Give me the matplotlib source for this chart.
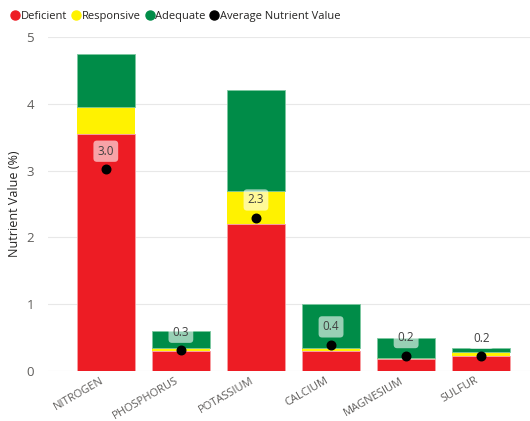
import matplotlib.pyplot as plt
import matplotlib.transforms as mtransforms
import numpy as np

nutrients = ["NITROGEN", "PHOSPHORUS", "POTASSIUM", "CALCIUM", "MAGNESIUM", "SULFUR"]
deficient = [3.55, 0.30, 2.20, 0.30, 0.175, 0.22]
responsive_top = [3.95, 0.35, 2.70, 0.35, 0.19, 0.28]
adequate_top = [4.75, 0.60, 4.20, 1.00, 0.50, 0.35]
average = [3.02, 0.31, 2.29, 0.39, 0.23, 0.22]
avg_labels = ["3.0", "0.3", "2.3", "0.4", "0.2", "0.2"]

red = "#ED1C24"
yellow = "#FFF200"
green = "#008C48"
txt = "#605E5C"

plt.rcParams['font.family'] = ['Open Sans', 'DejaVu Sans']

fig = plt.figure(figsize=(5.3, 4.21), dpi=100)
ax = fig.add_axes([48/530, 50/421, 482/530, 334/421])

x = np.arange(len(nutrients))
d = np.array(deficient)
r = np.array(responsive_top) - d
a = np.array(adequate_top) - np.array(responsive_top)
w = 0.78
ax.bar(x, d, w, color=red, edgecolor="#F7A0A4", linewidth=0.6, zorder=2)
ax.bar(x, r, w, bottom=d, color=yellow, linewidth=0, zorder=2)
ax.bar(x, a, w, bottom=responsive_top, color=green, edgecolor="#7CC8A0", linewidth=0.6, zorder=2)
ax.scatter(x, average, s=38, color="black", zorder=4)

for xi, v, lab in zip(x, average, avg_labels):
    ax.annotate(lab, (xi, v), xytext=(0, 13), textcoords="offset points",
                ha="center", va="center", fontsize=8.5, color="#404040", zorder=5,
                bbox=dict(boxstyle="round,pad=0.35,rounding_size=0.3", fc="white",
                          ec="none", alpha=0.6))

ax.set_ylim(0, 5)
ax.set_xlim(-0.77, 5.65)
ax.set_yticks(range(6))
ax.set_xticks(x)
ax.set_xticklabels(nutrients, rotation=30, ha="right", rotation_mode="anchor")
ax.tick_params(axis="both", length=0, colors=txt)
ax.tick_params(axis="y", pad=10, labelsize=9.5)
ax.tick_params(axis="x", pad=3, labelsize=8)
shift = mtransforms.ScaledTranslation(-6/100, 0, fig.dpi_scale_trans)
for lbl in ax.get_xticklabels():
    lbl.set_transform(lbl.get_transform() + shift)
ax.grid(axis="y", color="#E8E8E8", linewidth=0.8, zorder=0)
ax.set_axisbelow(True)
for s in ax.spines.values():
    s.set_visible(False)
ax.set_ylabel("Nutrient Value (%)", color="#252423", fontsize=9, labelpad=4)

handles = [plt.Line2D([], [], marker="o", ls="", color=c, markersize=6.5)
           for c in [red, yellow, green, "black"]]
fig.legend(handles, ["Deficient", "Responsive", "Adequate", "Average Nutrient Value"],
           loc="upper left", bbox_to_anchor=(0.005, 0.993), ncol=4, frameon=False,
           handlelength=0.9, handletextpad=0.05, columnspacing=0.35, fontsize=8,
           labelcolor="#252423", borderaxespad=0.3)

fig.savefig("out.png", dpi=100)
